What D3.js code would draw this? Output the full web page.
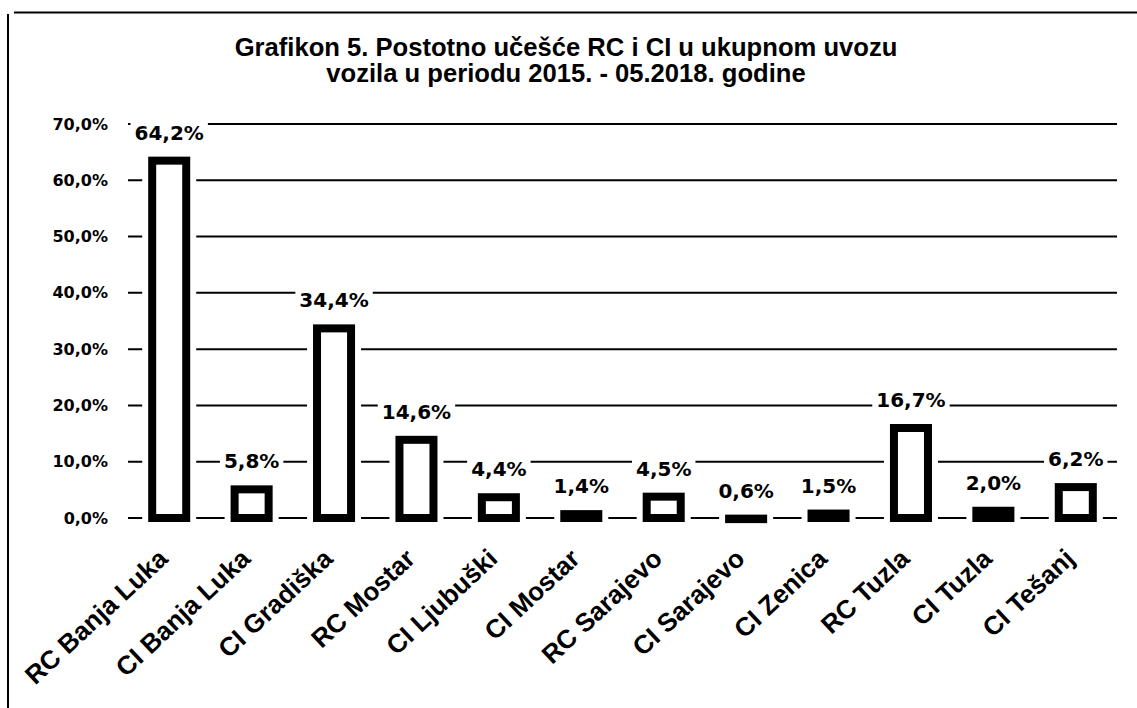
<!DOCTYPE html>
<html>
<head>
<meta charset="utf-8">
<script src="https://cdn.jsdelivr.net/npm/d3@7"></script>
<style>
  body { margin: 0; background: #fff; }
  text { font-family: "Liberation Sans", Arial, sans-serif; }
</style>
</head>
<body>
<div id="chart"></div>
<script>
// chart data
const categories = ["RC Banja Luka", "CI Banja Luka", "CI Gradiška", "RC Mostar", "CI Ljubuški", "CI Mostar",
  "RC Sarajevo", "CI Sarajevo", "CI Zenica", "RC Tuzla", "CI Tuzla", "CI Tešanj"];
const shares = [64.2, 5.8, 34.4, 14.6, 4.4, 1.4, 4.5, 0.6, 1.5, 16.7, 2.0, 6.2];
const yTicks = [0, 10, 20, 30, 40, 50, 60, 70];
const titleLines = ["Grafikon 5. Postotno učešće RC i CI u ukupnom uvozu", "vozila u periodu 2015. - 05.2018. godine"];

const W = 1137, H = 708;
const margin = {top: 124, right: 20, bottom: 188, left: 128};
const pct = d => d3.format(".1f")(d).replace(".", ",") + "%";

const svg = d3.select("#chart").append("svg")
  .attr("width", W).attr("height", H);

// scanned frame: top and left border
svg.append("line").attr("x1", 14).attr("x2", W).attr("y1", 12.5).attr("y2", 12.5)
  .attr("stroke", "#000").attr("stroke-width", 2);
svg.append("line").attr("x1", 8).attr("x2", 8).attr("y1", 14).attr("y2", H)
  .attr("stroke", "#000").attr("stroke-width", 2);

// title
svg.append("g").selectAll("text")
  .data(titleLines)
  .enter()
  .append("text")
    .attr("x", 566)
    .attr("y", (d, i) => 56 + i * 26)
    .attr("text-anchor", "middle")
    .style("font-size", "25.6px")
    .style("font-weight", "bold")
    .text(d => d);

const x = d3.scaleBand()
  .domain(categories)
  .range([margin.left, W - margin.right])
  .paddingInner(0.49)
  .paddingOuter(0.245);

const y = d3.scaleLinear()
  .domain([0, 70])
  .range([H - margin.bottom - 2, margin.top]);

// gridlines
svg.append("g").selectAll("line")
  .data(yTicks)
  .enter()
  .append("line")
    .attr("x1", margin.left)
    .attr("x2", W - margin.right)
    .attr("y1", d => y(d))
    .attr("y2", d => y(d))
    .attr("stroke", "#000")
    .attr("stroke-width", 2);

// y axis labels
const yAxis = svg.append("g")
  .attr("transform", `translate(${margin.left - 20},0)`)
  .call(d3.axisLeft(y).tickValues(yTicks).tickSize(0).tickPadding(0).tickFormat(pct));
yAxis.select(".domain").remove();
yAxis.selectAll("text")
  .style("font-family", "'DejaVu Sans', Verdana, sans-serif")
  .style("font-size", "16px")
  .style("font-weight", "bold")
  .attr("fill", "#000");

// white gap around each bar where gridlines stop
const sw = 8;
svg.append("g").selectAll("rect")
  .data(shares)
  .enter()
  .append("rect")
    .attr("x", (d, i) => x(categories[i]) - 6)
    .attr("width", x.bandwidth() + 12)
    .attr("y", d => y(d) - 2)
    .attr("height", d => y(0) - y(d) + 4)
    .attr("fill", "#fff");

// bars
svg.append("g").selectAll("rect")
  .data(shares)
  .enter()
  .append("rect")
    .attr("x", (d, i) => x(categories[i]) + sw / 2)
    .attr("width", x.bandwidth() - sw)
    .attr("y", d => y(d) + sw / 2)
    .attr("height", d => Math.max(0.5, y(0) - y(d) - sw / 2))
    .attr("fill", "#fff")
    .attr("stroke", "#000")
    .attr("stroke-width", sw);

// value labels with white boxes behind
const lab = svg.append("g").selectAll("g")
  .data(shares)
  .enter()
  .append("g")
    .attr("transform", (d, i) => `translate(${x(categories[i]) + x.bandwidth() / 2},${y(d) - 17})`);
lab.append("text")
  .attr("text-anchor", "middle")
  .style("font-family", "'DejaVu Sans', Verdana, sans-serif")
  .style("font-size", "20px")
  .style("font-weight", "bold")
  .text(pct);
lab.each(function() {
  const t = d3.select(this).select("text");
  const b = t.node().getBBox();
  d3.select(this).insert("rect", "text")
    .attr("x", b.x - 4).attr("y", b.y + 2)
    .attr("width", b.width + 8).attr("height", b.height - 2)
    .attr("fill", "#fff");
});

// category labels, rotated
svg.append("g").selectAll("text")
  .data(categories)
  .enter()
  .append("text")
    .attr("transform", d => `translate(${x(d) + x.bandwidth() / 2 - 6},${y(0) + 36}) rotate(-43)`)
    .attr("text-anchor", "end")
    .attr("dy", "0.35em")
    .style("font-size", "26px")
    .style("font-weight", "bold")
    .text(d => d);
</script>
</body>
</html>
